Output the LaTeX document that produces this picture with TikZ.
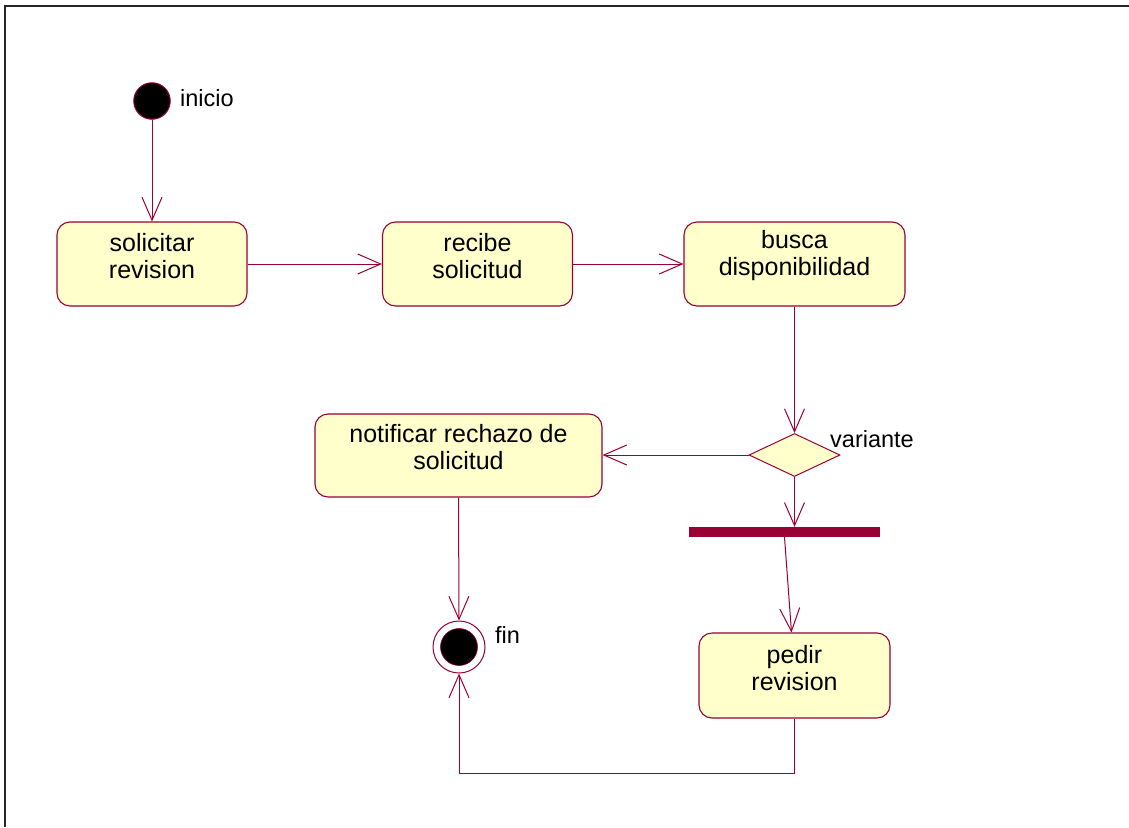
\documentclass[tikz,border=0pt]{standalone}
\usepackage{fontspec}
\setmainfont{Liberation Sans}
\usetikzlibrary{arrows.meta,shapes.geometric,calc}
\definecolor{umlred}{HTML}{990033}
\definecolor{umlfill}{HTML}{FFFFCC}
\begin{document}
\begin{tikzpicture}[x=1pt,y=-1pt,
  every node/.style={font=\fontsize{23.5}{27}\selectfont},
  activity/.style={draw=umlred, fill=umlfill, rounded corners=13pt, line width=1.1pt,
    inner sep=0pt, minimum height=84pt},
  caption/.style={align=center, inner sep=0pt, font=\fontsize{25}{27}\selectfont},
  tag/.style={anchor=west, inner sep=0pt},
  flow/.style={draw=umlred, line width=1pt, -{Straight Barb[length=23pt,width=20pt,line width=1pt]}},
  link/.style={draw=umlred, line width=1pt}]
\useasboundingbox (0,0) rectangle (1129,827);
% frame
\draw[line width=2pt, black!85] (5,827) -- (5,6) -- (1129,6);

% start and end states
\node[circle, fill=black, draw=umlred, line width=1pt, minimum size=36.5pt, inner sep=0pt] (start) at (152,101) {};
\node[tag] (startlbl) at (180,98) {inicio};
\node[circle, fill=white, draw=umlred, line width=1pt, minimum size=52pt, inner sep=0pt] (fin) at (459,647) {};
\fill[black, draw=umlred, line width=0.6pt] (fin.center) circle (18.5);
\node[tag] (finlbl) at (495,635) {fin};

% activities
\node[activity, minimum width=190pt] (solic) at (152,264) {};
\node[caption] (solict) at (152,256) {solicitar\\revision};
\node[activity, minimum width=190pt] (recibe) at (477.5,264) {};
\node[caption] (recibet) at (477.5,256) {recibe\\solicitud};
\node[activity, minimum width=221pt] (busca) at (794.5,264) {};
\node[caption] (buscat) at (794.5,256) {busca\\disponibilidad};
\node[activity, minimum width=287pt, minimum height=83pt] (notif) at (458.5,455.5) {};
\node[caption] (notift) at (458.5,447) {notificar rechazo de\\solicitud};
\node[activity, minimum width=191pt, minimum height=85pt] (pedir) at (794.5,675.5) {};
\node[caption] (pedirt) at (794.5,668) {pedir\\revision};

% decision and synchronisation bar
\node[diamond, draw=umlred, fill=umlfill, line width=1pt, inner sep=0pt,
  minimum width=91pt, minimum height=43pt] (dec) at (794.5,455) {};
\node[tag] (declbl) at (830,439) {variante};
\node[rectangle, fill=umlred, inner sep=0pt, minimum width=191pt, minimum height=10pt] (bar) at (784.5,532) {};

% transitions
\draw[flow] (start) -- (solic);
\draw[flow] (solic) -- (recibe);
\draw[flow] (recibe) -- (busca);
\draw[flow] (busca) -- (dec);
\draw[flow] (dec.west) -- (dec.west -| notif.east);
\draw[flow] (dec.south) -- (dec.south |- bar.north);
\draw[flow] (bar.south) -- ([xshift=-3pt]pedir.north);
\draw[flow] (notif.south) -- (fin.north);
\draw[flow] (pedir.south) -- ($(pedir.south)+(0,55)$) -| (fin.south);
\end{tikzpicture}
\end{document}
